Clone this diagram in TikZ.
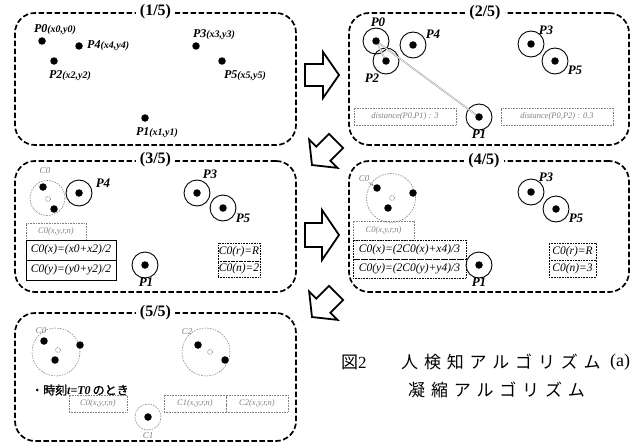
\documentclass[tikz,border=0pt]{standalone}
\usepackage{fontspec}
\setmainfont{Liberation Serif}
\newfontfamily\cjk{Noto Sans CJK JP}
\newfontfamily\cjkb[FakeBold=1.5]{Noto Sans CJK JP}
\usetikzlibrary{arrows.meta}
\newcommand\capch[1]{\makebox[22.8pt][l]{#1}}
\newcommand\smallsub{\fontsize{10}{11}\selectfont}
\tikzset{
 panel/.style={draw, line width=1.7pt, dash pattern=on 5.5pt off 2.5pt, rounded corners=20pt, inner sep=0},
 ptitle/.style={fill=white, inner xsep=4pt, inner ysep=1pt, font=\fontsize{16}{17}\selectfont\bfseries},
 dot/.style={circle, fill=black, inner sep=0, minimum size=7.5pt},
 ring/.style={circle, draw, line width=0.9pt, inner sep=0, minimum size=26pt},
 plab/.style={inner sep=0, font=\fontsize{13}{14}\selectfont\bfseries\itshape},
 plabs/.style={inner sep=0, font=\fontsize{12}{13}\selectfont\bfseries\itshape},
 cl/.style={circle, draw=gray, line width=0.6pt, dash pattern=on 1.5pt off 1.2pt, inner sep=0},
 cmark/.style={circle, draw=gray, line width=0.6pt, dash pattern=on 1pt off 0.8pt, inner sep=0, minimum size=5pt},
 glab/.style={inner sep=0, text=gray, font=\fontsize{9}{10}\selectfont\itshape},
 gbox/.style={draw=gray, line width=0.6pt, densely dotted, inner sep=0, text=gray, font=\fontsize{8.5}{9}\selectfont\itshape},
 fbox/.style={draw, line width=0.6pt, inner sep=0, font=\fontsize{11.5}{12}\selectfont\itshape},
 dbox/.style={draw, line width=0.6pt, densely dotted, inner sep=0, font=\fontsize{11.5}{12}\selectfont\itshape},
 barrow/.style={draw, line width=1.8pt, fill=white, line join=miter},
 gline/.style={draw=gray!80, double=white, double distance=0.5pt, line width=0.5pt},
 captxt/.style={inner sep=0, anchor=west, font=\cjk\fontsize{17}{18}\selectfont},
}
\begin{document}
\begin{tikzpicture}[x=1pt, y=-1pt]
\useasboundingbox (0,0) rectangle (636,444);

% ---------- panel 1 ----------
\node[panel, minimum width=281pt, minimum height=132pt] (pan1) at (155.5,79) {};
\node[ptitle] (t1) at (pan1.north) {(1/5)};
\node[dot] (a0) at (42,41) {};
\node[dot] (a4) at (79,46) {};
\node[dot] (a2) at (54,61) {};
\node[dot] (a3) at (196,46) {};
\node[dot] (a5) at (222,61) {};
\node[dot] (a1) at (145,118) {};
\node[plabs] (la0) at (55,30) {P0\smallsub(x0,y0)};
\node[plabs, anchor=west] (la4) at (87,46) {P4\smallsub(x4,y4)};
\node[plabs] (la2) at (70,76) {P2\smallsub(x2,y2)};
\node[plabs] (la3) at (214,35) {P3\smallsub(x3,y3)};
\node[plabs] (la5) at (245,76) {P5\smallsub(x5,y5)};
\node[plabs] (la1) at (157,133) {P1\smallsub(x1,y1)};

% ---------- panel 2 ----------
\node[panel, minimum width=280pt, minimum height=132pt] (pan2) at (489,79) {};
\node[ptitle] (t2) at (485,13) {(2/5)};
\node[ring] (rb0) at (376,41) {};
\node[ring] (rb2) at (386,61) {};
\node[ring] (rb4) at (413,45) {};
\node[ring] (rb3) at (531,44) {};
\node[ring] (rb5) at (555,61) {};
\node[ring] (rb1) at (479,117) {};
\draw[gline] (rb0.center) -- (rb1.center);
\draw[gline] (rb0.center) -- (rb2.center);
\node[dot] (b0) at (376,41) {};
\node[dot] (b2) at (386,61) {};
\node[dot] (b4) at (413,45) {};
\node[dot] (b3) at (531,44) {};
\node[dot] (b5) at (555,61) {};
\node[dot] (b1) at (479,117) {};
\node[plab] (lb0) at (378,22) {P0};
\node[plab] (lb4) at (433,34) {P4};
\node[plab] (lb2) at (372,78) {P2};
\node[plab] (lb3) at (546,30) {P3};
\node[plab] (lb5) at (575,70) {P5};
\node[plab] (lb1) at (479,134) {P1};
\node[gbox, minimum width=102pt, minimum height=17pt] (db1) at (405,116.5) {distance(P0,P1) : 3};
\node[gbox, minimum width=112pt, minimum height=17pt] (db2) at (557,116.5) {distance(P0,P2) : 0.3};

% ---------- panel 3 ----------
\node[panel, minimum width=281pt, minimum height=131pt] (pan3) at (155.5,226.5) {};
\node[ptitle] (t3) at (pan3.north) {(3/5)};
\node[cl, minimum size=35pt] (c3) at (47.5,198) {};
\node[cmark] (m3) at (48,199) {};
\node[dot] (c3a) at (43,187) {};
\node[dot] (c3b) at (54,209) {};
\node[glab] (lc3) at (45,171) {C0};
\node[ring] (rc4) at (79,193) {};
\node[dot] (c4) at (79,193) {};
\node[ring] (rc33) at (197,193) {};
\node[dot] (c33) at (197,193) {};
\node[ring] (rc5) at (223,208) {};
\node[dot] (c5) at (223,208) {};
\node[ring] (rc1) at (145,265) {};
\node[dot] (c1) at (145,265) {};
\node[plab] (lc4) at (103,183) {P4};
\node[plab] (lc33) at (210,174) {P3};
\node[plab] (lc5) at (243,218) {P5};
\node[plab] (lc1) at (146,282) {P1};
\node[gbox, minimum width=60pt, minimum height=17pt] (g3) at (56,231.5) {C0(x,y,r,n)};
\node[fbox, minimum width=90pt, minimum height=20pt] (f3x) at (71,250) {C0(x)=(x0+x2)/2};
\node[fbox, minimum width=90pt, minimum height=20pt] (f3y) at (71,270) {C0(y)=(y0+y2)/2};
\node[dbox, minimum width=42pt, minimum height=18pt] (r3) at (239,252) {C0(r)=R};
\node[dbox, minimum width=42pt, minimum height=16pt] (n3) at (239,269) {C0(n)=2};

% ---------- panel 4 ----------
\node[panel, minimum width=280pt, minimum height=131pt] (pan4) at (489,226.5) {};
\node[ptitle] (t4) at (484,161) {(4/5)};
\node[cl, minimum size=49pt] (c4c) at (391,198) {};
\node[cmark] (m4) at (392,198) {};
\node[dot] (d0) at (377,188) {};
\node[dot] (d4) at (413,193) {};
\node[dot] (d2) at (388,208) {};
\node[glab] (ld0) at (364,179) {C0};
\draw[gray, line width=0.5pt, -{Stealth[length=3pt]}] (ld0) -- (d0);
\node[ring] (rd3) at (531,192) {};
\node[dot] (d3) at (531,192) {};
\node[ring] (rd5) at (556,209) {};
\node[dot] (d5) at (556,209) {};
\node[ring] (rd1) at (479,265) {};
\node[dot] (d1) at (479,265) {};
\node[plab] (ld3) at (546,177) {P3};
\node[plab] (ld5) at (576,218) {P5};
\node[plab] (ld1) at (479,282) {P1};
\node[gbox, minimum width=61pt, minimum height=19pt] (g4) at (383.5,230.5) {C0(x,y,r,n)};
\node[dbox, minimum width=113pt, minimum height=19pt] (f4x) at (409.5,249.5) {C0(x)=(2C0(x)+x4)/3};
\node[dbox, minimum width=113pt, minimum height=19pt] (f4y) at (409.5,268.5) {C0(y)=(2C0(y)+y4)/3};
\node[dbox, minimum width=47pt, minimum height=17pt] (r4) at (572.5,251.5) {C0(r)=R};
\node[dbox, minimum width=47pt, minimum height=17pt] (n4) at (572.5,268.5) {C0(n)=3};

% ---------- panel 5 ----------
\node[panel, minimum width=281pt, minimum height=128pt] (pan5) at (155.5,377) {};
\node[ptitle] (t5) at (pan5.north) {(5/5)};
\node[cl, minimum size=48pt] (e0) at (56,352) {};
\node[cmark] (me0) at (58,350) {};
\node[dot] (e0a) at (44,341) {};
\node[dot] (e0b) at (80,345) {};
\node[dot] (e0c) at (55,360) {};
\node[glab] (le0) at (41,331) {C0};
\node[cl, minimum size=48pt] (e2) at (206,352) {};
\node[cmark] (me2) at (210,352) {};
\node[dot] (e2a) at (198,345) {};
\node[dot] (e2b) at (225,360) {};
\node[glab] (le2) at (187,332) {C2};
\node[cl, minimum size=26pt] (e1) at (148,417) {};
\node[dot] (e1a) at (148,417) {};
\node[glab] (le1) at (148,436) {C1};
\node[inner sep=0, anchor=west, font=\fontsize{12}{13}\selectfont] (tt) at (31,390)
  {{\cjkb ・時刻}\textbf{\textit{t=T0}}\,{\cjkb のとき}};
\node[gbox, minimum width=58pt, minimum height=17pt] (g50) at (98,403.5) {C0(x,y,r,n)};
\node[gbox, minimum width=62pt, minimum height=17pt] (g51) at (195,403.5) {C1(x,y,r,n)};
\node[gbox, minimum width=62pt, minimum height=17pt] (g52) at (257,403.5) {C2(x,y,r,n)};

% ---------- block arrows ----------
\draw[barrow, shift={(305,75)}] (0,-11) -- (18,-11) -- (18,-23) -- (34,0) -- (18,23) -- (18,11) -- (0,11) -- cycle;
\draw[barrow, shift={(305,235)}] (0,-12) -- (17,-12) -- (17,-25) -- (34,0) -- (17,25) -- (17,12) -- (0,12) -- cycle;
\draw[barrow, shift={(324,153)}, rotate=225] (-17,-10) -- (1,-10) -- (1,-20) -- (17,0) -- (1,20) -- (1,10) -- (-17,10) -- cycle;
\draw[barrow, shift={(324,305)}, rotate=225] (-17,-10) -- (1,-10) -- (1,-20) -- (17,0) -- (1,20) -- (1,10) -- (-17,10) -- cycle;

% ---------- caption ----------
\node[captxt] (cap1) at (341,362) {図\rmfamily 2};
\node[captxt] (cap2) at (401,362) {\capch{人}\capch{検}\capch{知}\capch{ア}\capch{ル}\capch{ゴ}\capch{リ}\capch{ズ}\capch{ム}};
\node[inner sep=0, anchor=west, font=\fontsize{18}{19}\selectfont] (cap3) at (610,362) {(a)};
\node[captxt] (cap4) at (408,390) {\capch{凝}\capch{縮}\capch{ア}\capch{ル}\capch{ゴ}\capch{リ}\capch{ズ}\capch{ム}};
\end{tikzpicture}
\end{document}
